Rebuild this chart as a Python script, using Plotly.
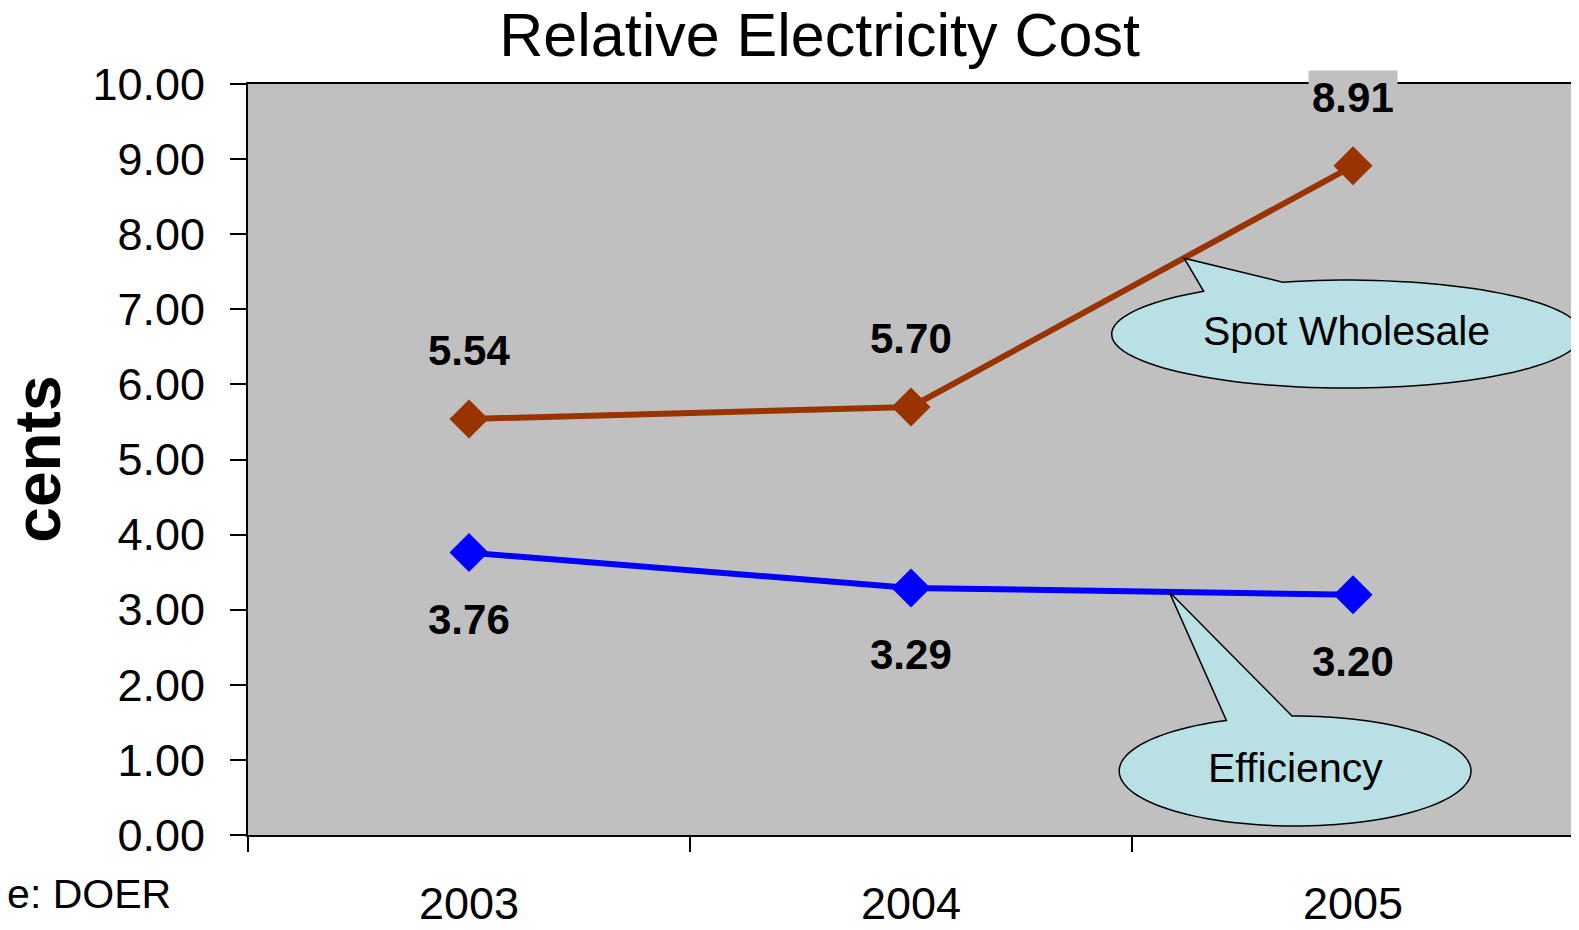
import numpy as np
import plotly.graph_objects as go

# ---------------- data ----------------
years = ["2003", "2004", "2005"]
spot_wholesale = [5.54, 5.70, 8.91]
efficiency = [3.76, 3.29, 3.20]
y_ticks = [0, 1, 2, 3, 4, 5, 6, 7, 8, 9, 10]
title_text = "Relative Electricity Cost"
y_title = "cents"
source_text = "Source: DOER"

SPOT_COLOR = "#993300"
EFF_COLOR = "#0000FF"
PLOT_BG = "#C0C0C0"
CALLOUT_FILL = "#B9E0E4"
TICK_FONT = "Liberation Sans, Arial"
TEXT_FONT = "Liberation Sans, Arial"

X_RANGE = [-0.5, 2.5]
Y_RANGE = [0, 10]
x_idx = list(range(len(years)))

fig = go.Figure()

fig.add_trace(go.Scatter(
    x=x_idx, y=spot_wholesale, mode="lines+markers", name="Spot Wholesale",
    line=dict(color=SPOT_COLOR, width=6),
    marker=dict(symbol="diamond", size=30, color=SPOT_COLOR),
    showlegend=False, hoverinfo="skip"))
fig.add_trace(go.Scatter(
    x=x_idx, y=efficiency, mode="lines+markers", name="Efficiency",
    line=dict(color=EFF_COLOR, width=6),
    marker=dict(symbol="diamond", size=30, color=EFF_COLOR),
    showlegend=False, hoverinfo="skip"))

annotations = []
# data labels
for i, v in zip(x_idx, spot_wholesale):
    annotations.append(dict(x=i, y=v, xref="x", yref="y", text=f"{v:.2f}",
                            xanchor="center", yanchor="middle",
                            showarrow=False, yshift=68, bgcolor=PLOT_BG, borderpad=3,
                            font=dict(family=TEXT_FONT, size=42, color="black", weight="bold")))
for i, v in zip(x_idx, efficiency):
    annotations.append(dict(x=i, y=v, xref="x", yref="y", text=f"{v:.2f}",
                            xanchor="center", yanchor="middle",
                            showarrow=False, yshift=-67, bgcolor=PLOT_BG, borderpad=3,
                            font=dict(family=TEXT_FONT, size=42, color="black", weight="bold")))


def to_paper(x, y):
    return ((x - X_RANGE[0]) / (X_RANGE[1] - X_RANGE[0]),
            (y - Y_RANGE[0]) / (Y_RANGE[1] - Y_RANGE[0]))


def callout_path(tip, center, rx, ry, a_start, a_end, n=120):
    t = np.radians(np.linspace(a_start, a_end, n))
    xs = center[0] + rx * np.cos(t)
    ys = center[1] + ry * np.sin(t)
    pts = [to_paper(a, b) for a, b in zip(xs, ys)]
    tp = to_paper(*tip)
    d = "M{:.5f},{:.5f}".format(*pts[0])
    for p in pts[1:]:
        d += " L{:.5f},{:.5f}".format(*p)
    d += " L{:.5f},{:.5f} Z".format(*tp)
    return d


shapes = []
callouts = [
    # label, tip(data), center(data), rx, ry, start angle, end angle
    ("Spot Wholesale", (1.618, 7.68), (1.986, 6.67), 0.532, 0.719, 127.5, 465.8),
    ("Efficiency", (1.584, 3.24), (1.869, 0.852), 0.398, 0.732, 113.0, 451.0),
]
for label, tip, c, rx, ry, a0, a1 in callouts:
    shapes.append(dict(type="path", xref="paper", yref="paper",
                       path=callout_path(tip, c, rx, ry, a0, a1),
                       fillcolor=CALLOUT_FILL, line=dict(color="black", width=1.5),
                       layer="above"))
    cx, cy = to_paper(*c)
    annotations.append(dict(x=cx, y=cy, xref="paper", yref="paper", text=label,
                            xanchor="center", yanchor="middle",
                            showarrow=False, yshift=3,
                            font=dict(family=TEXT_FONT, size=41, color="black")))

# y-axis title
annotations.append(dict(x=-0.159, y=0.5, xref="paper", yref="paper", text=y_title,
                        xanchor="center", yanchor="middle",
                        textangle=-90, showarrow=False,
                        font=dict(family=TEXT_FONT, size=64, color="black", weight="bold")))
# source
annotations.append(dict(x=-0.0565, y=-0.078, xref="paper", yref="paper", text=source_text,
                        xanchor="right", yanchor="middle", showarrow=False,
                        font=dict(family=TEXT_FONT, size=41, color="black")))

fig.update_layout(
    width=1579, height=930,
    margin=dict(l=240, r=13, t=76, b=103, autoexpand=False),
    paper_bgcolor="white", plot_bgcolor=PLOT_BG,
    title=dict(text=title_text, x=0.514, xanchor="center", y=1 - 27 / 930,
               yanchor="middle", yref="container",
               font=dict(family=TEXT_FONT, size=61, color="black")),
    xaxis=dict(range=X_RANGE, tickvals=x_idx, ticktext=years,
               ticks="", showline=True, linecolor="black", linewidth=2, mirror=True,
               showgrid=False, zeroline=False, ticklabelstandoff=28, automargin=False,
               tickfont=dict(family=TICK_FONT, size=45, color="black")),
    xaxis2=dict(range=X_RANGE, overlaying="x", side="bottom", anchor="y",
                tickvals=[-0.5, 0.5, 1.5, 2.5], showticklabels=False,
                ticks="outside", ticklen=16, tickwidth=2, tickcolor="black",
                showline=False, showgrid=False, zeroline=False, automargin=False),
    yaxis=dict(range=Y_RANGE, tickvals=y_ticks, tickformat=".2f",
               ticks="outside", ticklen=16, tickwidth=2, tickcolor="black",
               showline=True, linecolor="black", linewidth=2, mirror=True,
               showgrid=False, zeroline=False, ticklabelstandoff=16, automargin=False,
               tickfont=dict(family=TICK_FONT, size=45, color="black")),
    shapes=shapes,
    annotations=annotations,
)
# invisible trace to activate the boundary-tick axis
fig.add_trace(go.Scatter(x=[X_RANGE[0]], y=[Y_RANGE[0]], xaxis="x2", mode="markers",
                         marker=dict(opacity=0), showlegend=False, hoverinfo="skip"))

fig.write_html("out.html")
